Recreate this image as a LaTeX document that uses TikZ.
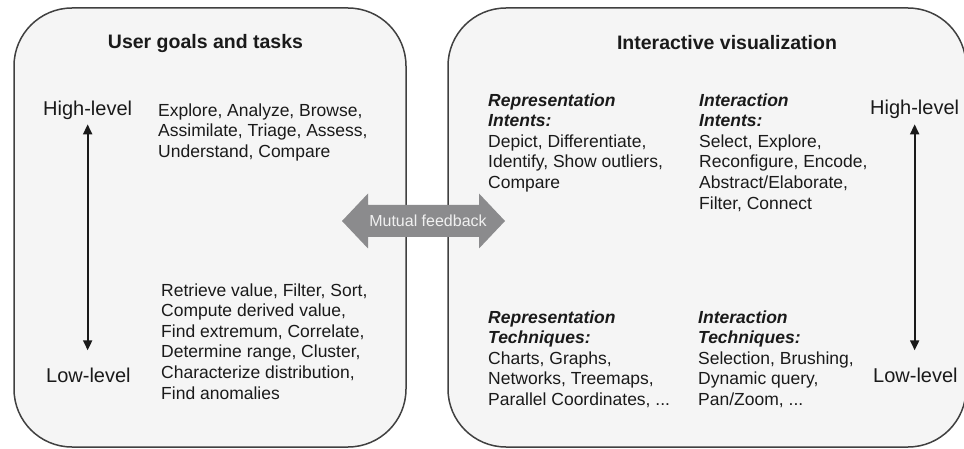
\documentclass[tikz,border=0pt]{standalone}
\usepackage{fontspec}
\setmainfont{Liberation Sans}
\usetikzlibrary{arrows.meta}
\definecolor{boxfill}{HTML}{F5F5F5}
\definecolor{boxline}{HTML}{404040}
\definecolor{fbgray}{HTML}{8B8B8D}
\definecolor{ink}{HTML}{1A1A1A}
\tikzset{
  panel/.style={draw=boxline, fill=boxfill, line width=1.5pt, rounded corners=58pt},
  titletext/.style={inner sep=0pt, anchor=base, text=ink, font=\fontsize{19.5}{23}\selectfont\bfseries},
  leveltext/.style={inner sep=0pt, anchor=base west, text=ink, font=\fontsize{20}{24}\selectfont},
  blocktext/.style={inner sep=0pt, anchor=north west, align=left, text=ink, font=\fontsize{17.5}{20.6}\selectfont},
  levelarrow/.style={draw=ink, line width=1.8pt, {Triangle[length=10pt,width=9pt]}-{Triangle[length=10pt,width=9pt]}},
  feedback/.style={fill=fbgray, draw=none},
  fbtext/.style={inner sep=0pt, text=white!94!black, font=\fontsize{16}{19}\selectfont}
}
\newcommand{\hd}[1]{\textbf{\textit{#1}}}
\begin{document}
\begin{tikzpicture}[x=1pt,y=-1pt]
\useasboundingbox (0,0) rectangle (964,449);
\clip (0,0) rectangle (964,449);
% panels
\draw[panel] (14,8) rectangle (406,447);
\draw[panel] (448,8) rectangle (966,447);
% titles
\node[titletext] (t1) at (205.5,49) {User goals and tasks};
\node[titletext] (t2) at (727,50) {Interactive visualization};
% left side
\node[leveltext] (hl1) at (43,116) {High-level};
\node[leveltext] (ll1) at (46,382) {Low-level};
\draw[levelarrow, shorten <=4pt, shorten >=17pt] (hl1.south) -- (hl1.south |- ll1.north);
\node[blocktext] (g1) at (158,103.3) {Explore, Analyze, Browse,\\Assimilate, Triage, Assess,\\Understand, Compare};
\node[blocktext] (g2) at (161,283.3) {Retrieve value, Filter, Sort,\\Compute derived value,\\Find extremum, Correlate,\\Determine range, Cluster,\\Characterize distribution,\\Find anomalies};
% right side
\node[leveltext] (hl2) at (870,115) {High-level};
\node[leveltext] (ll2) at (873,382) {Low-level};
\draw[levelarrow, shorten <=5pt, shorten >=17pt] (hl2.south) -- (hl2.south |- ll2.north);
\node[blocktext] (ri) at (488,93.3) {\hd{Representation}\\\hd{Intents:}\\Depict, Differentiate,\\Identify, Show outliers,\\Compare};
\node[blocktext] (ii) at (699,93.3) {\hd{Interaction}\\\hd{Intents:}\\Select, Explore,\\Reconfigure, Encode,\\Abstract/Elaborate,\\Filter, Connect};
\node[blocktext] (rt) at (488,310.3) {\hd{Representation}\\\hd{Techniques:}\\Charts, Graphs,\\Networks, Treemaps,\\Parallel Coordinates, ...};
\node[blocktext] (it) at (698,310.3) {\hd{Interaction}\\\hd{Techniques:}\\Selection, Brushing,\\Dynamic query,\\Pan/Zoom, ...};
% mutual feedback arrow
\fill[feedback] (342,221) -- (368,193.5) -- (368,205) -- (479,205) -- (479,193.5) -- (505,221)
  -- (479,248.5) -- (479,237) -- (368,237) -- (368,248.5) -- cycle;
\node[fbtext] (fb) at (428,221) {Mutual feedback};
\end{tikzpicture}
\end{document}
